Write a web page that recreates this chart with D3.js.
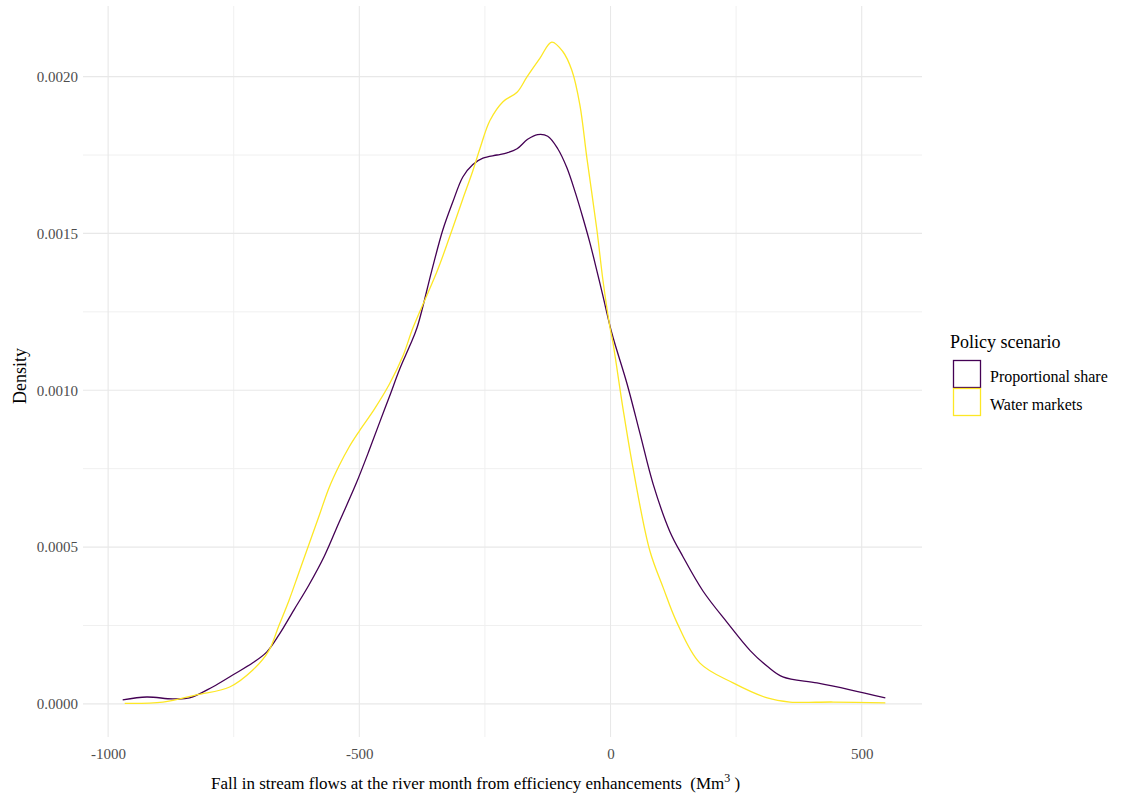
<!DOCTYPE html>
<html>
<head>
<meta charset="utf-8">
<script src="https://cdn.jsdelivr.net/npm/d3@7"></script>
<style>
  html, body { margin: 0; padding: 0; background: #ffffff; }
  svg { display: block; }
  text { font-family: "Liberation Serif", "Times New Roman", serif; }
</style>
</head>
<body>
<svg id="chart" width="1125" height="798"></svg>
<script>
// ---- Data ----
const seriesNames = ["Proportional share", "Water markets"];
const seriesColors = ["#440154", "#FDE725"];

// Proportional share: x (Mm3) and density
const propX = [-971, -923, -872, -838, -792, -752, -712, -684, -660, -630, -600, -570, -540, -507, -480, -459, -440, -419, -400, -385, -356, -334, -314, -294, -274, -254, -226, -206, -186, -165, -145, -125, -105, -87, -70, -55, -41, -27, -15, 3, 33, 59, 85, 118, 144, 184, 232, 278, 312, 343, 411, 477, 547];
const propY = [0.000013, 0.000022, 0.000016, 0.000019, 0.000054, 0.000092, 0.000131, 0.000166, 0.00022, 0.00030, 0.00038, 0.00047, 0.00058, 0.00070, 0.00081, 0.00090, 0.00098, 0.00107, 0.00114, 0.00120, 0.00138, 0.00151, 0.00160, 0.00168, 0.00172, 0.00174, 0.00175, 0.001757, 0.00177, 0.00180, 0.001815, 0.00181, 0.00177, 0.00171, 0.00163, 0.00155, 0.00147, 0.00138, 0.00130, 0.00118, 0.00102, 0.00086, 0.00070, 0.00055, 0.00047, 0.00036, 0.00026, 0.00017, 0.00012, 0.000086, 0.000067, 0.000045, 0.000019];

// Water markets: x (Mm3) and density
const waterX = [-967, -891, -824, -758, -712, -680, -660, -640, -620, -600, -580, -560, -540, -520, -500, -470, -440, -413, -393, -345, -320, -294, -274, -260, -240, -214, -186, -166, -140, -117, -95, -77, -61, -47, -27, -15, -1, 5, 25, 45, 78, 105, 132, 178, 244, 312, 357, 443, 547];
const waterY = [0.000002, 0.000006, 0.000029, 0.000054, 0.000108, 0.00017, 0.00025, 0.00033, 0.00042, 0.00051, 0.00060, 0.00069, 0.00076, 0.00082, 0.00087, 0.00094, 0.00102, 0.00111, 0.00120, 0.00138, 0.00149, 0.00161, 0.00170, 0.00177, 0.00186, 0.00192, 0.00195, 0.00200, 0.00206, 0.00211, 0.00208, 0.00202, 0.00191, 0.00174, 0.00151, 0.00135, 0.00120, 0.00115, 0.00094, 0.00075, 0.00049, 0.00037, 0.00026, 0.00013, 0.000067, 0.000019, 0.000006, 0.000006, 0.000003];

const xMajorTicks = [-1000, -500, 0, 500];
const xMinorTicks = [-750, -250, 250];
const yMajorTicks = [0, 0.0005, 0.0010, 0.0015, 0.0020];
const yMinorTicks = [0.00025, 0.00075, 0.00125, 0.00175];

const xTitle = "Fall in stream flows at the river month from efficiency enhancements\u00a0\u00a0(Mm";
const yTitle = "Density";
const legendTitle = "Policy scenario";

// ---- Layout ----
const svg = d3.select("#chart");
const panel = { left: 83, right: 922, top: 6, bottom: 737 };

const x = d3.scaleLinear().domain([-1050, 620]).range([panel.left, panel.right]);
const y = d3.scaleLinear().domain([-0.0001055, 0.0022155]).range([panel.bottom, 9]);

const g = svg.append("g");

// Minor gridlines
g.selectAll("line.xminor").data(xMinorTicks).enter().append("line")
  .attr("x1", d => x(d)).attr("x2", d => x(d))
  .attr("y1", panel.top).attr("y2", panel.bottom)
  .attr("stroke", "#f0f0f0").attr("stroke-width", 1);
g.selectAll("line.yminor").data(yMinorTicks).enter().append("line")
  .attr("x1", panel.left).attr("x2", panel.right)
  .attr("y1", d => y(d)).attr("y2", d => y(d))
  .attr("stroke", "#f0f0f0").attr("stroke-width", 1);
// Major gridlines
g.selectAll("line.xmajor").data(xMajorTicks).enter().append("line")
  .attr("x1", d => x(d)).attr("x2", d => x(d))
  .attr("y1", panel.top).attr("y2", panel.bottom)
  .attr("stroke", "#e8e8e8").attr("stroke-width", 1.1);
g.selectAll("line.ymajor").data(yMajorTicks).enter().append("line")
  .attr("x1", panel.left).attr("x2", panel.right)
  .attr("y1", d => y(d)).attr("y2", d => y(d))
  .attr("stroke", "#e8e8e8").attr("stroke-width", 1.1);

// Axes (labels only, via d3 axis)
const xAxis = d3.axisBottom(x).tickValues(xMajorTicks).tickSize(0).tickPadding(0)
  .tickFormat(d => String(d));
const xg = svg.append("g").attr("transform", `translate(0,${panel.bottom + 11})`).call(xAxis);
xg.select(".domain").remove();
xg.selectAll("text").attr("fill", "#4d4d4d").style("font-size", "15px")
  .style("font-family", "'Liberation Serif', serif");

const yAxis = d3.axisLeft(y).tickValues(yMajorTicks).tickSize(0).tickPadding(0)
  .tickFormat(d3.format(".4f"));
const yg = svg.append("g").attr("transform", `translate(${panel.left - 5},0)`).call(yAxis);
yg.select(".domain").remove();
yg.selectAll("text").attr("fill", "#4d4d4d").style("font-size", "15px")
  .style("font-family", "'Liberation Serif', serif");

// Density lines
const line = d3.line().x(d => x(d[0])).y(d => y(d[1])).curve(d3.curveCatmullRom.alpha(0.5));
const propData = propX.map((v, i) => [v, propY[i]]);
const waterData = waterX.map((v, i) => [v, waterY[i]]);

svg.append("path").datum(propData).attr("d", line)
  .attr("fill", "none").attr("stroke", seriesColors[0]).attr("stroke-width", 1.3);
svg.append("path").datum(waterData).attr("d", line)
  .attr("fill", "none").attr("stroke", seriesColors[1]).attr("stroke-width", 1.3);

// Axis titles
const xt = svg.append("text").attr("x", 211).attr("y", 789)
  .attr("fill", "#000").style("font-size", "17px");
xt.append("tspan").text(xTitle);
xt.append("tspan").attr("dy", -7).style("font-size", "12px").text("3");
xt.append("tspan").attr("dy", 7).text("\u00a0)");

svg.append("text")
  .attr("transform", "translate(26,376) rotate(-90)")
  .attr("text-anchor", "middle").attr("fill", "#000")
  .style("font-size", "18px").text(yTitle);

// Legend
const lg = svg.append("g");
lg.append("text").attr("x", 950).attr("y", 348).attr("fill", "#000")
  .style("font-size", "18px").text(legendTitle);
seriesNames.forEach((name, i) => {
  lg.append("rect").attr("x", 953.5).attr("y", 360.5 + i * 28)
    .attr("width", 27).attr("height", 27)
    .attr("fill", "#fff").attr("stroke", seriesColors[i]).attr("stroke-width", 1.3);
  lg.append("text").attr("x", 990).attr("y", 382 + i * 28).attr("fill", "#000")
    .style("font-size", "16px").text(name);
});
</script>
</body>
</html>
